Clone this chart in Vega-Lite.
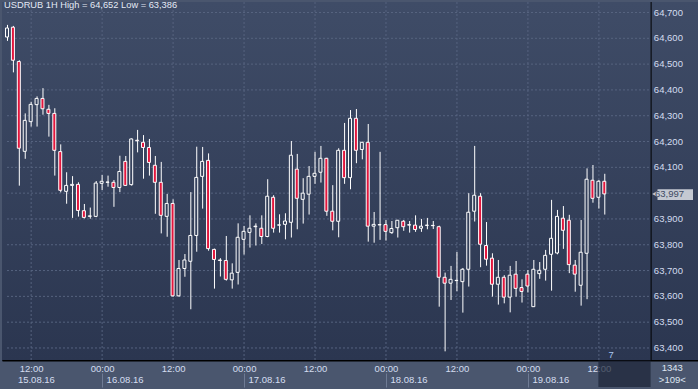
{
  "$schema": "https://vega.github.io/schema/vega-lite/v6.json",
  "width": 696,
  "height": 358,
  "autosize": {"type": "none"},
  "padding": {"left": 2, "top": 2, "right": 0, "bottom": 29},
  "background": "#4a566e",
  "config": {
    "view": {"stroke": "#10151f", "strokeWidth": 1},
    "font": "Liberation Sans"
  },
  "title": {
    "text": "USDRUB 1H High = 64,652 Low = 63,386",
    "anchor": "start",
    "frame": "group",
    "orient": "top",
    "offset": 0,
    "baseline": "top",
    "dx": 2,
    "dy": 9,
    "font": "Liberation Sans",
    "fontSize": 9.3,
    "fontWeight": "normal",
    "color": "#e4eaf5"
  },
  "datasets": {
    "candles": [
      {"t":"2016-08-15T08:00:00Z","open":64605,"high":64652,"low":64590,"close":64640},
      {"t":"2016-08-15T09:00:00Z","open":64643,"high":64648,"low":64468,"close":64515},
      {"t":"2016-08-15T10:00:00Z","open":64510,"high":64515,"low":64029,"close":64174},
      {"t":"2016-08-15T11:00:00Z","open":64162,"high":64309,"low":64133,"close":64282},
      {"t":"2016-08-15T12:00:00Z","open":64277,"high":64354,"low":64258,"close":64344},
      {"t":"2016-08-15T13:00:00Z","open":64343,"high":64375,"low":64258,"close":64367},
      {"t":"2016-08-15T14:00:00Z","open":64367,"high":64407,"low":64304,"close":64327},
      {"t":"2016-08-15T15:00:00Z","open":64325,"high":64342,"low":64219,"close":64309},
      {"t":"2016-08-15T16:00:00Z","open":64309,"high":64329,"low":64068,"close":64166},
      {"t":"2016-08-15T17:00:00Z","open":64161,"high":64189,"low":64003,"close":64011},
      {"t":"2016-08-15T18:00:00Z","open":64007,"high":64081,"low":63959,"close":64030},
      {"t":"2016-08-15T19:00:00Z","open":64030,"high":64066,"low":63904,"close":64034},
      {"t":"2016-08-15T20:00:00Z","open":64034,"high":64042,"low":63909,"close":63933},
      {"t":"2016-08-15T21:00:00Z","open":63932,"high":63958,"low":63902,"close":63906},
      {"t":"2016-08-15T22:00:00Z","open":63910,"high":63944,"low":63901,"close":63912},
      {"t":"2016-08-15T23:00:00Z","open":63910,"high":64047,"low":63907,"close":64039},
      {"t":"2016-08-16T00:00:00Z","open":64038,"high":64070,"low":64012,"close":64046},
      {"t":"2016-08-16T01:00:00Z","open":64042,"high":64068,"low":64025,"close":64043},
      {"t":"2016-08-16T02:00:00Z","open":64042,"high":64051,"low":63947,"close":64022},
      {"t":"2016-08-16T03:00:00Z","open":64022,"high":64145,"low":64004,"close":64084},
      {"t":"2016-08-16T04:00:00Z","open":64123,"high":64144,"low":64028,"close":64030},
      {"t":"2016-08-16T05:00:00Z","open":64033,"high":64212,"low":64029,"close":64210},
      {"t":"2016-08-16T06:00:00Z","open":64205,"high":64245,"low":64158,"close":64203},
      {"t":"2016-08-16T07:00:00Z","open":64197,"high":64225,"low":64056,"close":64177},
      {"t":"2016-08-16T08:00:00Z","open":64177,"high":64210,"low":64068,"close":64119},
      {"t":"2016-08-16T09:00:00Z","open":64108,"high":64144,"low":63920,"close":64042},
      {"t":"2016-08-16T10:00:00Z","open":64042,"high":64121,"low":63844,"close":63914},
      {"t":"2016-08-16T11:00:00Z","open":63910,"high":63997,"low":63831,"close":63960},
      {"t":"2016-08-16T12:00:00Z","open":63960,"high":63976,"low":63599,"close":63602},
      {"t":"2016-08-16T13:00:00Z","open":63602,"high":63741,"low":63599,"close":63708},
      {"t":"2016-08-16T14:00:00Z","open":63708,"high":63764,"low":63676,"close":63741},
      {"t":"2016-08-16T15:00:00Z","open":63736,"high":64004,"low":63550,"close":63836},
      {"t":"2016-08-16T16:00:00Z","open":63836,"high":64180,"low":63773,"close":64061},
      {"t":"2016-08-16T17:00:00Z","open":64065,"high":64179,"low":63940,"close":64123},
      {"t":"2016-08-16T18:00:00Z","open":64127,"high":64154,"low":63777,"close":63785},
      {"t":"2016-08-16T19:00:00Z","open":63782,"high":63785,"low":63630,"close":63743},
      {"t":"2016-08-16T20:00:00Z","open":63741,"high":63748,"low":63677,"close":63739},
      {"t":"2016-08-16T21:00:00Z","open":63739,"high":63834,"low":63661,"close":63666},
      {"t":"2016-08-16T22:00:00Z","open":63664,"high":63728,"low":63630,"close":63690},
      {"t":"2016-08-16T23:00:00Z","open":63693,"high":63883,"low":63646,"close":63829},
      {"t":"2016-08-17T00:00:00Z","open":63821,"high":63873,"low":63762,"close":63852},
      {"t":"2016-08-17T01:00:00Z","open":63848,"high":63914,"low":63789,"close":63864},
      {"t":"2016-08-17T02:00:00Z","open":63870,"high":63883,"low":63797,"close":63872},
      {"t":"2016-08-17T03:00:00Z","open":63864,"high":63914,"low":63803,"close":63832},
      {"t":"2016-08-17T04:00:00Z","open":63832,"high":64054,"low":63829,"close":63988},
      {"t":"2016-08-17T05:00:00Z","open":63984,"high":63992,"low":63847,"close":63864},
      {"t":"2016-08-17T06:00:00Z","open":63876,"high":63918,"low":63847,"close":63877},
      {"t":"2016-08-17T07:00:00Z","open":63879,"high":63922,"low":63821,"close":63892},
      {"t":"2016-08-17T08:00:00Z","open":63887,"high":64202,"low":63828,"close":64147},
      {"t":"2016-08-17T09:00:00Z","open":64093,"high":64152,"low":63860,"close":63980},
      {"t":"2016-08-17T10:00:00Z","open":63976,"high":64058,"low":63882,"close":64000},
      {"t":"2016-08-17T11:00:00Z","open":63996,"high":64105,"low":63917,"close":64065},
      {"t":"2016-08-17T12:00:00Z","open":64065,"high":64160,"low":64036,"close":64077},
      {"t":"2016-08-17T13:00:00Z","open":64081,"high":64183,"low":64041,"close":64135},
      {"t":"2016-08-17T14:00:00Z","open":64135,"high":64137,"low":63912,"close":63930},
      {"t":"2016-08-17T15:00:00Z","open":63930,"high":64031,"low":63856,"close":63891},
      {"t":"2016-08-17T16:00:00Z","open":63891,"high":64174,"low":63829,"close":64166},
      {"t":"2016-08-17T17:00:00Z","open":64166,"high":64272,"low":64036,"close":64060},
      {"t":"2016-08-17T18:00:00Z","open":64060,"high":64322,"low":64015,"close":64290},
      {"t":"2016-08-17T19:00:00Z","open":64290,"high":64326,"low":64116,"close":64166},
      {"t":"2016-08-17T20:00:00Z","open":64169,"high":64199,"low":64131,"close":64197},
      {"t":"2016-08-17T21:00:00Z","open":64197,"high":64268,"low":63812,"close":63872},
      {"t":"2016-08-17T22:00:00Z","open":63872,"high":63927,"low":63808,"close":63879},
      {"t":"2016-08-17T23:00:00Z","open":63877,"high":64160,"low":63819,"close":63878},
      {"t":"2016-08-18T00:00:00Z","open":63878,"high":63896,"low":63816,"close":63852},
      {"t":"2016-08-18T01:00:00Z","open":63847,"high":63892,"low":63842,"close":63863},
      {"t":"2016-08-18T02:00:00Z","open":63866,"high":63896,"low":63828,"close":63895},
      {"t":"2016-08-18T03:00:00Z","open":63891,"high":63896,"low":63854,"close":63870},
      {"t":"2016-08-18T04:00:00Z","open":63876,"high":63892,"low":63847,"close":63878},
      {"t":"2016-08-18T05:00:00Z","open":63876,"high":63914,"low":63850,"close":63859},
      {"t":"2016-08-18T06:00:00Z","open":63864,"high":63900,"low":63850,"close":63872},
      {"t":"2016-08-18T07:00:00Z","open":63875,"high":63904,"low":63860,"close":63876},
      {"t":"2016-08-18T08:00:00Z","open":63875,"high":63892,"low":63861,"close":63874},
      {"t":"2016-08-18T09:00:00Z","open":63870,"high":63874,"low":63560,"close":63674},
      {"t":"2016-08-18T10:00:00Z","open":63674,"high":63692,"low":63387,"close":63651},
      {"t":"2016-08-18T11:00:00Z","open":63651,"high":63718,"low":63586,"close":63666},
      {"t":"2016-08-18T12:00:00Z","open":63661,"high":63772,"low":63620,"close":63662},
      {"t":"2016-08-18T13:00:00Z","open":63657,"high":63710,"low":63537,"close":63705},
      {"t":"2016-08-18T14:00:00Z","open":63705,"high":64000,"low":63638,"close":63926},
      {"t":"2016-08-18T15:00:00Z","open":63930,"high":64183,"low":63890,"close":63992},
      {"t":"2016-08-18T16:00:00Z","open":63988,"high":64000,"low":63713,"close":63802},
      {"t":"2016-08-18T17:00:00Z","open":63797,"high":63888,"low":63719,"close":63744},
      {"t":"2016-08-18T18:00:00Z","open":63748,"high":63767,"low":63599,"close":63647},
      {"t":"2016-08-18T19:00:00Z","open":63647,"high":63741,"low":63568,"close":63674},
      {"t":"2016-08-18T20:00:00Z","open":63674,"high":63682,"low":63573,"close":63597},
      {"t":"2016-08-18T21:00:00Z","open":63597,"high":63718,"low":63538,"close":63682},
      {"t":"2016-08-18T22:00:00Z","open":63686,"high":63737,"low":63599,"close":63631},
      {"t":"2016-08-18T23:00:00Z","open":63634,"high":63666,"low":63576,"close":63619},
      {"t":"2016-08-19T00:00:00Z","open":63686,"high":63702,"low":63615,"close":63640},
      {"t":"2016-08-19T01:00:00Z","open":63560,"high":63741,"low":63560,"close":63705},
      {"t":"2016-08-19T02:00:00Z","open":63688,"high":63733,"low":63668,"close":63701},
      {"t":"2016-08-19T03:00:00Z","open":63705,"high":63780,"low":63661,"close":63759},
      {"t":"2016-08-19T04:00:00Z","open":63763,"high":63974,"low":63622,"close":63825},
      {"t":"2016-08-19T05:00:00Z","open":63768,"high":63935,"low":63763,"close":63910},
      {"t":"2016-08-19T06:00:00Z","open":63903,"high":63950,"low":63784,"close":63856},
      {"t":"2016-08-19T07:00:00Z","open":63895,"high":63916,"low":63690,"close":63723},
      {"t":"2016-08-19T08:00:00Z","open":63721,"high":63741,"low":63618,"close":63686},
      {"t":"2016-08-19T09:00:00Z","open":63643,"high":63896,"low":63564,"close":63771},
      {"t":"2016-08-19T10:00:00Z","open":63767,"high":64096,"low":63589,"close":64054},
      {"t":"2016-08-19T11:00:00Z","open":64050,"high":64109,"low":63963,"close":63980},
      {"t":"2016-08-19T12:00:00Z","open":63984,"high":64051,"low":63940,"close":64046},
      {"t":"2016-08-19T13:00:00Z","open":64046,"high":64075,"low":63917,"close":63997}
    ],
    "levels": [
      {"price":63400},{"price":63500},{"price":63600},{"price":63700},{"price":63800},
      {"price":63900},{"price":64000},{"price":64100},{"price":64200},{"price":64300},
      {"price":64400},{"price":64500},{"price":64600},{"price":64700}
    ],
    "halfdays": [
      {"t":"2016-08-15T12:00:00Z"},{"t":"2016-08-16T00:00:00Z"},{"t":"2016-08-16T12:00:00Z"},
      {"t":"2016-08-17T00:00:00Z"},{"t":"2016-08-17T12:00:00Z"},{"t":"2016-08-18T00:00:00Z"},
      {"t":"2016-08-18T12:00:00Z"},{"t":"2016-08-19T00:00:00Z"},{"t":"2016-08-19T12:00:00Z"}
    ],
    "lastprice": [
      {"t":"2016-08-19T21:35:00Z","arrow":"2016-08-19T21:40:00Z","from":"2016-08-19T22:00:00Z","to":"2016-08-20T04:00:00Z","price":63997,"lo":63973,"hi":64015,"label":"63,997"}
    ],
    "notes": [
      {"t":"2016-08-19T14:10:00Z","price":63373,"label":"7","kind":"count"},
      {"t":"2016-08-20T00:30:00Z","price":63322,"label":"1343","kind":"box"},
      {"t":"2016-08-20T00:30:00Z","price":63276,"label":">109<","kind":"box"}
    ]
  },
  "resolve": {"axis": {"x": "independent"}},
  "layer": [
    {
      "data": {"values": [{}]},
      "mark": {
        "type": "rect",
        "fill": {"gradient": "linear", "x1": 0, "y1": 0, "x2": 0, "y2": 1,
          "stops": [{"offset": 0, "color": "#3f4c67"}, {"offset": 1, "color": "#2b3650"}]}
      },
      "encoding": {}
    },
    {
      "data": {"name": "halfdays"},
      "mark": {"type": "rule", "stroke": "#56637f", "strokeWidth": 1, "strokeDash": [2, 2], "xOffset": 0.5},
      "encoding": {
        "x": {"field": "t", "type": "temporal", "axis": null}
      }
    },
    {
      "data": {"name": "levels"},
      "mark": {"type": "rule", "stroke": "#56637f", "strokeWidth": 1, "strokeDash": [2, 2]},
      "encoding": {
        "y": {"field": "price", "type": "quantitative", "axis": null},
        "x": {"datum": {"year": 2016, "month": 8, "date": 15, "hours": 8, "utc": true}, "type": "temporal", "axis": null},
        "x2": {"datum": {"year": 2016, "month": 8, "date": 19, "hours": 20, "minutes": 50, "utc": true}}
      }
    },
    {
      "data": {"name": "levels"},
      "transform": [{"filter": "datum.price != 64000"}],
      "mark": {"type": "text", "align": "left", "baseline": "middle", "font": "Liberation Sans", "fontSize": 9.5, "fill": "#d4ddf0"},
      "encoding": {
        "y": {"field": "price", "type": "quantitative", "axis": null},
        "x": {"datum": {"year": 2016, "month": 8, "date": 19, "hours": 21, "minutes": 23, "utc": true}, "type": "temporal", "axis": null},
        "text": {"field": "price", "type": "quantitative", "format": ",d"}
      }
    },
    {
      "data": {"name": "candles"},
      "mark": {"type": "rule", "stroke": "#ffffff", "strokeWidth": 1, "clip": true, "xOffset": 0.5},
      "encoding": {
        "x": {
          "field": "t", "type": "temporal",
          "scale": {"type": "utc", "domain": [
            {"year": 2016, "month": 8, "date": 15, "hours": 8, "utc": true},
            {"year": 2016, "month": 8, "date": 20, "hours": 4, "utc": true}
          ]},
          "axis": {
            "orient": "bottom",
            "values": [
              {"year": 2016, "month": 8, "date": 15, "hours": 12, "utc": true},
              {"year": 2016, "month": 8, "date": 16, "hours": 0, "utc": true},
              {"year": 2016, "month": 8, "date": 16, "hours": 12, "utc": true},
              {"year": 2016, "month": 8, "date": 17, "hours": 0, "utc": true},
              {"year": 2016, "month": 8, "date": 17, "hours": 12, "utc": true},
              {"year": 2016, "month": 8, "date": 18, "hours": 0, "utc": true},
              {"year": 2016, "month": 8, "date": 18, "hours": 12, "utc": true},
              {"year": 2016, "month": 8, "date": 19, "hours": 0, "utc": true},
              {"year": 2016, "month": 8, "date": 19, "hours": 12, "utc": true}
            ],
            "labelExpr": "utcFormat(datum.value, '%H:%M')",
            "labelFont": "Liberation Sans",
            "labelFontSize": 9.5,
            "labelColor": "#d4ddf0",
            "labelBaseline": "middle",
            "labelPadding": 8,
            "labelOffset": 0.5,
            "labelFlush": false,
            "labelOverlap": false,
            "ticks": false,
            "tickSize": 0,
            "grid": false,
            "domain": true,
            "domainColor": "#000000",
            "domainWidth": 2,
            "title": null
          }
        },
        "y": {
          "field": "low", "type": "quantitative",
          "scale": {"domain": [63353.4, 64740.7], "zero": false, "nice": false},
          "axis": null
        },
        "y2": {"field": "high"}
      }
    },
    {
      "data": {"name": "candles"},
      "mark": {"type": "bar", "width": 3, "stroke": "#ffffff", "strokeWidth": 1, "clip": true},
      "encoding": {
        "x": {
          "field": "t", "type": "temporal",
          "axis": {
            "orient": "bottom",
            "offset": 13,
            "values": [
              {"year": 2016, "month": 8, "date": 15, "hours": 9, "utc": true},
              {"year": 2016, "month": 8, "date": 16, "hours": 0, "utc": true},
              {"year": 2016, "month": 8, "date": 17, "hours": 0, "utc": true},
              {"year": 2016, "month": 8, "date": 18, "hours": 0, "utc": true},
              {"year": 2016, "month": 8, "date": 19, "hours": 0, "utc": true}
            ],
            "labelExpr": "utcFormat(datum.value, '%d.%m.%y')",
            "labelFont": "Liberation Sans",
            "labelFontSize": 9.5,
            "labelColor": "#d4ddf0",
            "labelAlign": "left",
            "labelBaseline": "middle",
            "labelOffset": 4,
            "labelPadding": -8,
            "labelFlush": false,
            "labelOverlap": false,
            "ticks": true,
            "tickSize": 14,
            "tickOffset": 0.5,
            "tickColor": "#6f7b94",
            "tickOpacity": {"condition": {"test": "utchours(datum.value) != 0", "value": 0}, "value": 1},
            "grid": false,
            "domain": false,
            "title": null
          }
        },
        "y": {"field": "open", "type": "quantitative", "axis": null},
        "y2": {"field": "close"},
        "fill": {
          "condition": {"test": "datum.close < datum.open", "value": "#e3163d"},
          "field": "close", "type": "quantitative",
          "scale": {"domain": [63353.4, 64740.7], "range": ["#2b3650", "#3f4c67"]},
          "legend": null
        }
      }
    },
    {
      "data": {"values": [{}]},
      "mark": {"type": "rule", "stroke": "#000000", "strokeWidth": 1, "xOffset": 0.5},
      "encoding": {
        "x": {"datum": {"year": 2016, "month": 8, "date": 19, "hours": 20, "minutes": 50, "utc": true}, "type": "temporal", "axis": null}
      }
    },
    {
      "data": {"values": [{}]},
      "mark": {"type": "rect", "fill": "#1b2336", "opacity": 0.7, "clip": false},
      "encoding": {
        "x": {"datum": {"year": 2016, "month": 8, "date": 19, "hours": 12, "utc": true}, "type": "temporal", "axis": null},
        "x2": {"datum": {"year": 2016, "month": 8, "date": 19, "hours": 20, "minutes": 50, "utc": true}},
        "y": {"datum": 63351, "type": "quantitative", "axis": null},
        "y2": {"datum": 63249}
      }
    },
    {
      "data": {"name": "lastprice"},
      "mark": {"type": "rect", "fill": "#c4c9d2"},
      "encoding": {
        "x": {"field": "from", "type": "temporal", "axis": null},
        "x2": {"field": "to"},
        "y": {"field": "lo", "type": "quantitative", "axis": null},
        "y2": {"field": "hi"}
      }
    },
    {
      "data": {"name": "lastprice"},
      "mark": {"type": "point", "shape": "triangle-left", "filled": true, "fill": "#c4c9d2", "size": 60, "opacity": 1},
      "encoding": {
        "x": {"field": "arrow", "type": "temporal", "axis": null},
        "y": {"field": "price", "type": "quantitative", "axis": null}
      }
    },
    {
      "data": {"name": "lastprice"},
      "mark": {"type": "text", "align": "left", "baseline": "middle", "font": "Liberation Sans", "fontSize": 9.5, "fill": "#3d4962"},
      "encoding": {
        "x": {"field": "t", "type": "temporal", "axis": null},
        "y": {"field": "price", "type": "quantitative", "axis": null},
        "text": {"field": "label"}
      }
    },
    {
      "data": {"name": "notes"},
      "mark": {"type": "text", "align": "center", "baseline": "middle", "font": "Liberation Sans", "fontSize": 9.5, "clip": false},
      "encoding": {
        "x": {"field": "t", "type": "temporal", "axis": null},
        "y": {"field": "price", "type": "quantitative", "axis": null},
        "text": {"field": "label"},
        "color": {"field": "kind", "type": "nominal", "scale": {"domain": ["count", "box"], "range": ["#a9c8f0", "#dfe6f2"]}, "legend": null}
      }
    }
  ]
}
